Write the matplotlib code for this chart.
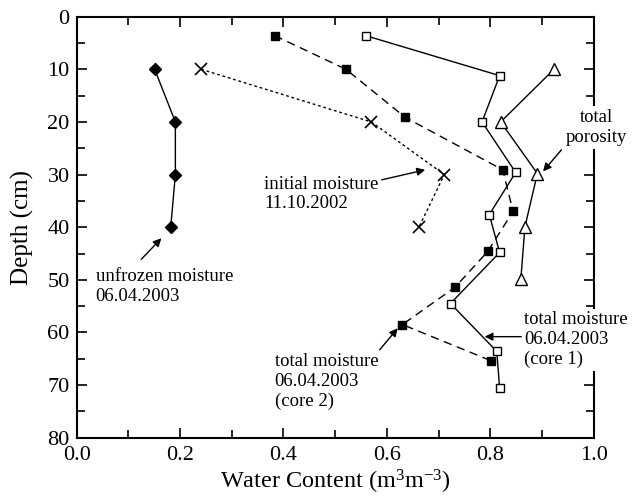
import matplotlib.pyplot as plt
from matplotlib.ticker import MultipleLocator

plt.rcParams['font.family'] = ['Liberation Serif', 'DejaVu Serif']
plt.rcParams['mathtext.fontset'] = 'custom'
plt.rcParams['mathtext.rm'] = 'Liberation Serif'
plt.rcParams['mathtext.it'] = 'Liberation Serif:italic'

# unfrozen moisture 06.04.2003
unf_x = [0.151, 0.191, 0.191, 0.182]
unf_d = [10, 20, 30, 40]
# initial moisture 11.10.2002
ini_x = [0.241, 0.570, 0.711, 0.662]
ini_d = [10, 20, 30, 40]
# total moisture core 2
c2_x = [0.383, 0.521, 0.635, 0.824, 0.844, 0.795, 0.732, 0.630, 0.802]
c2_d = [3.6, 10, 19.1, 29.1, 37.0, 44.6, 51.4, 58.5, 65.4]
# total moisture core 1
c1_x = [0.559, 0.818, 0.784, 0.849, 0.798, 0.818, 0.723, 0.8125, 0.818]
c1_d = [3.6, 11.2, 20, 29.6, 37.6, 44.8, 54.5, 63.6, 70.6]
# total porosity
por_x = [0.923, 0.820, 0.891, 0.867, 0.859]
por_d = [10, 20, 29.8, 39.9, 49.9]

fig = plt.figure(figsize=(6.33, 5.0), dpi=100)
ax = fig.add_axes([0.121, 0.1246, 0.817, 0.842])

ax.plot(unf_x, unf_d, '-', color='black', lw=1, marker='D', ms=6, mfc='black')
ax.plot(ini_x, ini_d, color='black', lw=1, ls=(0, (2, 2)), marker='x', ms=8, mew=1.2)
ax.plot(c2_x, c2_d, color='black', lw=1, ls=(0, (6, 4)), marker='s', ms=6, mfc='black')
ax.plot(c1_x, c1_d, '-', color='black', lw=1, marker='s', ms=6, mfc='white')
ax.plot(por_x, por_d, '-', color='black', lw=1, marker='^', ms=8, mfc='white')

ax.set_xlim(0, 1.0)
ax.set_ylim(80, 0)
ax.xaxis.set_major_locator(MultipleLocator(0.2))
ax.xaxis.set_minor_locator(MultipleLocator(0.1))
ax.yaxis.set_major_locator(MultipleLocator(10))
ax.yaxis.set_minor_locator(MultipleLocator(5))
ax.tick_params(which='both', direction='in', top=True, right=True, labelsize=16, width=1.2)
ax.tick_params(which='major', length=7)
ax.tick_params(which='minor', length=6)
ax.tick_params(axis='x', pad=6)
ax.tick_params(axis='y', pad=5)
for s in ax.spines.values():
    s.set_linewidth(1.5)

ax.set_xlabel('Water Content (m$^\\mathrm{3}$m$^\\mathrm{-3}$)', fontsize=17.5, labelpad=2)
ax.set_ylabel('Depth (cm)', fontsize=18, labelpad=10)

arr = dict(arrowstyle='-|>', color='black', lw=1, mutation_scale=12, shrinkA=0, shrinkB=0)
box = dict(facecolor='white', edgecolor='none', pad=2)
fs = 13.5

def note(txt, x, y, ha='left', white=False):
    kw = dict(fontsize=fs, va='center', ha=ha, linespacing=1.22, clip_on=False)
    if white:
        kw.update(bbox=box, zorder=5)
    ax.text(x, y, txt, **kw)

def arrow(start, end):
    ax.annotate('', xy=end, xytext=start, arrowprops=arr, annotation_clip=False)

note('unfrozen moisture\n06.04.2003', 0.037, 51.2)
arrow((0.125, 46.1), (0.164, 42.1))
note('initial moisture\n11.10.2002', 0.363, 33.7)
arrow((0.590, 31.0), (0.674, 29.1))
note('total\nporosity', 1.005, 21.05, ha='center', white=True)
arrow((0.9375, 25.3), (0.902, 29.4))
note('total moisture\n06.04.2003\n(core 1)', 0.866, 61.4, white=True)
arrow((0.860, 60.8), (0.789, 60.8))
note('total moisture\n06.04.2003\n(core 2)', 0.383, 69.4)
arrow((0.586, 63.3), (0.621, 59.2))

fig.savefig('out.png', dpi=100)
